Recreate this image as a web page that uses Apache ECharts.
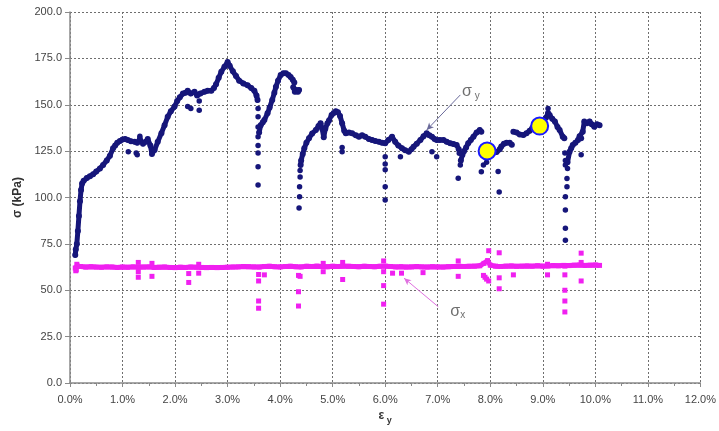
<!DOCTYPE html>
<html>
<head>
<meta charset="utf-8">
<script src="https://cdn.jsdelivr.net/npm/echarts@6/dist/echarts.min.js"></script>
<style>html,body{margin:0;padding:0;background:#fff;}#c{width:719px;height:431px;}</style>
</head>
<body>
<div id="c"></div>
<script>
// ---- axis ticks ----
const xTicks = [0,1,2,3,4,5,6,7,8,9,10,11,12];      // ε y (%)
const yTicks = [0,25,50,75,100,125,150,175,200];     // σ (kPa)

// ---- σy : continuous runs of readings [εy %, kPa] ----
const sigmaYRunA = [[0.10,69],[0.11,72],[0.13,75],[0.15,82],[0.17,90],[0.19,98],[0.21,104],[0.23,107.5],[0.26,109],[0.32,110.5],[0.38,111.5],[0.44,112.5],[0.50,114],[0.57,115.7],[0.63,117.5],[0.70,120],[0.76,122.5],[0.82,126.5],[0.86,128],[0.90,129.5],[0.95,130.5],[1.00,131.2],[1.05,131.5],[1.10,131],[1.16,130.3],[1.23,130],[1.28,129.5],[1.33,131.5],[1.39,129],[1.44,130],[1.48,131.5],[1.53,128],[1.56,123.5],[1.61,125.6],[1.67,130],[1.74,134.7],[1.80,139],[1.86,143.5],[1.92,146.5],[1.99,149],[2.04,152],[2.09,154],[2.15,156],[2.20,156.5],[2.24,157.5],[2.30,156],[2.37,157],[2.42,155],[2.48,156],[2.56,157],[2.62,157.5],[2.69,157.5],[2.74,159],[2.78,161],[2.83,164.5],[2.88,167.8],[2.94,170.5],[3.00,173],[3.04,171],[3.10,168],[3.16,165.5],[3.22,163],[3.30,161.5],[3.38,160.5],[3.45,159],[3.51,157.5],[3.55,155],[3.57,152.5]];
const sigmaYRunB = [[3.60,135],[3.63,139],[3.67,140.5],[3.70,141.8],[3.76,145.4],[3.80,148.5],[3.85,152.6],[3.89,156.5],[3.92,159.7],[3.96,163],[4.01,166],[4.06,167],[4.11,167],[4.16,166],[4.20,165],[4.24,163.5],[4.27,162]];
const sigmaYRunB2 = [[4.25,159.5],[4.28,157],[4.31,158],[4.34,157],[4.36,158]];
const sigmaYRunC = [[4.39,117.5],[4.40,120],[4.43,123.5],[4.46,126.5],[4.50,129.5],[4.55,132],[4.61,134.5],[4.68,136.4],[4.73,138.5],[4.77,140],[4.80,137],[4.83,132.5],[4.86,137],[4.90,140],[4.93,141.5],[4.98,144.5],[5.02,145.5],[5.06,146.5],[5.10,146],[5.14,144],[5.18,140],[5.22,136],[5.25,134.6],[5.31,135],[5.37,134.6],[5.44,133.5],[5.50,132.8],[5.56,133.5],[5.62,132.8],[5.69,131.5],[5.75,131],[5.81,130.5],[5.88,130],[5.94,129.5],[6.00,129.2],[6.06,131],[6.13,132.8],[6.19,130],[6.25,128],[6.32,126.5],[6.38,125.5],[6.45,124.7],[6.50,126],[6.54,127.4],[6.60,129],[6.67,131],[6.73,133],[6.79,134.6],[6.84,133.5],[6.89,132.8],[6.94,131.5],[6.98,131],[7.04,131],[7.11,131],[7.17,130],[7.24,129.2],[7.30,128.8],[7.36,128.3],[7.40,126]];
const sigmaYRunD = [[7.44,120],[7.47,123],[7.50,125],[7.54,127],[7.58,129.2],[7.63,131],[7.68,132.8],[7.74,135],[7.80,136.4],[7.83,135.5]];
const sigmaYRunE = [[8.05,124],[8.12,124.5],[8.18,126],[8.21,127.5],[8.26,129],[8.31,129.5],[8.37,129.5],[8.41,128.5]];
const sigmaYRunF = [[8.44,135.5],[8.50,135],[8.56,134],[8.63,133.7],[8.69,134.6],[8.75,136],[8.80,137.5],[8.86,138],[8.93,139.5],[9.00,141],[9.06,143],[9.10,145.5],[9.13,144.5],[9.18,142.5],[9.23,141],[9.28,138],[9.32,136.4],[9.38,132.8],[9.41,132]];
const sigmaYRunG = [[9.47,119],[9.51,124.7],[9.54,126.5],[9.57,128.3],[9.62,129.5],[9.67,131],[9.70,133],[9.73,132],[9.76,135.5],[9.79,141],[9.84,140],[9.89,141],[9.93,139.5],[9.98,138.2],[10.03,139.5],[10.08,139]];
// ---- σy : isolated readings ----
const sigmaYDots = [[1.11,124.7],[1.26,124],[1.28,123],[1.33,133],[2.24,149],[2.30,148],[2.46,147],[2.46,152],[3.58,148],[3.58,143.5],[3.58,138],[3.58,132.8],[3.58,128],[3.58,124],[3.58,116.6],[3.58,106.7],[4.36,94.3],[4.37,100.4],[4.37,105.8],[4.38,111],[4.38,114.5],[5.18,124.7],[5.18,127],[6.00,122],[6.00,118],[6.00,115],[6.00,105.8],[6.00,98.6],[6.29,122],[6.89,124.7],[6.98,122],[7.41,123.8],[7.43,117.5],[7.39,110.4],[7.83,113.9],[7.87,117.5],[7.93,119],[8.15,114],[8.17,103],[9.10,148],[9.42,124],[9.43,120],[9.43,117.5],[9.47,115.7],[9.46,110.3],[9.46,105.8],[9.43,100.4],[9.43,93.3],[9.43,83.4],[9.43,77],[9.73,123]];

// ---- σx : main run and isolated readings ----
const sigmaXRun = [[0.10,62],[0.12,61],[0.14,63],[0.2,62.8],[0.3,62.5],[0.4,62.7],[0.5,62.5],[0.6,62.4],[0.7,62.6],[0.8,62.5],[0.9,62.3],[1.0,62.5],[1.1,62.4],[1.2,62.6],[1.3,62.4],[1.4,62.5],[1.5,62.6],[1.6,62.3],[1.7,62.4],[1.8,62.5],[1.9,62.3],[2.0,62.2],[2.1,62.4],[2.2,62.3],[2.3,62.5],[2.4,62.4],[2.5,62.3],[2.6,62.2],[2.7,62.3],[2.8,62.2],[2.9,62.3],[3.0,62.4],[3.1,62.5],[3.2,62.6],[3.3,62.8],[3.4,62.7],[3.5,62.6],[3.6,62.5],[3.7,62.8],[3.8,62.9],[3.9,62.7],[4.0,62.6],[4.1,62.8],[4.2,62.9],[4.3,62.7],[4.4,62.6],[4.5,62.9],[4.6,62.8],[4.7,63.0],[4.8,62.8],[4.9,62.7],[5.0,62.9],[5.1,62.8],[5.2,63.0],[5.3,62.9],[5.4,62.8],[5.5,62.7],[5.6,62.9],[5.7,62.8],[5.8,62.7],[5.9,62.9],[6.0,63.0],[6.1,62.8],[6.2,62.6],[6.3,62.7],[6.4,62.5],[6.5,62.6],[6.6,62.8],[6.7,62.6],[6.8,62.5],[6.9,62.7],[7.0,62.6],[7.1,62.5],[7.2,62.7],[7.3,62.8],[7.4,62.9],[7.5,62.8],[7.6,62.9],[7.7,63.0],[7.8,63.2],[7.88,64.5],[7.95,66],[8.0,63.5],[8.1,63.0],[8.2,62.8],[8.3,63.0],[8.4,63.1],[8.5,62.9],[8.6,63.0],[8.7,63.1],[8.8,63.0],[8.9,63.2],[9.0,63.0],[9.1,63.1],[9.2,63.3],[9.3,63.2],[9.4,63.4],[9.5,63.3],[9.6,63.5],[9.7,63.6],[9.8,63.4],[9.9,63.5],[10.0,63.6],[10.08,63.4]];
const sigmaXDots = [[0.11,60.5],[0.13,64],[1.30,65],[1.30,60],[1.30,57],[1.56,57.5],[1.56,64.5],[2.26,54.2],[2.26,59],[2.45,59.2],[2.45,64],[3.59,55],[3.59,58.5],[3.59,44.2],[3.59,40.3],[3.70,58.3],[4.35,49.2],[4.35,41.5],[4.35,58],[4.38,57.5],[4.82,60],[4.82,64.5],[5.19,55.8],[5.19,65],[5.97,65.8],[5.97,52.5],[5.97,42.5],[5.97,60],[6.14,59.2],[6.31,59.2],[6.72,59.5],[7.39,65.8],[7.39,57.5],[7.87,58],[7.90,57],[7.93,56],[7.97,71.3],[7.97,55],[8.17,70.2],[8.17,56.7],[8.17,50.8],[8.44,58.3],[9.09,58.3],[9.09,64],[9.42,63],[9.42,58.3],[9.42,50],[9.42,44.2],[9.42,38.3],[9.73,70],[9.73,65],[9.73,55]];

// ---- highlighted readings (yellow markers) ----
const highlights = [[7.94,125.1],[8.94,138.5]];

// ---- annotations ----
const annoLabels = [[7.63,157,'y'],[7.38,38.5,'x']];
const annoArrows = [[[7.43,155.3],[6.79,136.4]],[[7.01,41.1],[6.36,56.5]]];

const Y_COLOR = '#16167a';
const X_COLOR = '#f020f0';
const FONT = 'Liberation Sans, Arial, sans-serif';

const chart = echarts.init(document.getElementById('c'), null, {renderer:'canvas'});

const ySeries = [sigmaYRunA, sigmaYRunB, sigmaYRunB2, sigmaYRunC, sigmaYRunD, sigmaYRunE, sigmaYRunF, sigmaYRunG].map(run => ({
  type:'line', data: run, symbol:'circle', symbolSize:6, showSymbol:true,
  itemStyle:{color:Y_COLOR, opacity:1}, lineStyle:{color:Y_COLOR, width:5, cap:'round', join:'round'},
  z:3, animation:false, silent:true
}));

const option = {
  animation:false,
  backgroundColor:'#ffffff',
  grid:{left:70, right:16, top:12, bottom:48, containLabel:false},
  xAxis:{
    type:'value', min:xTicks[0], max:xTicks[xTicks.length-1], interval:1,
    name:'{e|ε}{s| y}', nameLocation:'middle', nameGap:27,
    nameTextStyle:{rich:{e:{fontFamily:FONT,fontSize:12,fontWeight:'bold',color:'#333',verticalAlign:'bottom'},s:{fontFamily:FONT,fontSize:9,fontWeight:'bold',color:'#333',verticalAlign:'bottom',padding:[0,0,-3,0]}}},
    axisLine:{show:true, onZero:false, lineStyle:{color:'#8a8a8a', width:1.5}},
    axisTick:{show:true, length:4, lineStyle:{color:'#8a8a8a'}},
    minorTick:{show:true, splitNumber:2, length:3, lineStyle:{color:'#8a8a8a'}},
    axisLabel:{margin:11, fontFamily:FONT, fontSize:11, color:'#444', formatter:v=>v.toFixed(1)+'%'},
    splitLine:{show:true, lineStyle:{color:'#6e6e6e', type:[2,2], width:1}}
  },
  yAxis:{
    type:'value', min:yTicks[0], max:yTicks[yTicks.length-1], interval:25,
    name:'σ (kPa)', nameLocation:'middle', nameGap:46, nameRotate:90,
    nameTextStyle:{fontFamily:FONT, fontSize:12, fontWeight:'bold', color:'#333'},
    axisLine:{show:true, onZero:false, lineStyle:{color:'#8a8a8a', width:1.5}},
    axisTick:{show:true, length:5, lineStyle:{color:'#8a8a8a'}},
    axisLabel:{margin:8, fontFamily:FONT, fontSize:11, color:'#444', formatter:v=>v.toFixed(1)},
    splitLine:{show:true, lineStyle:{color:'#6e6e6e', type:[2,2], width:1}}
  },
  series:[
    {
      type:'line', data:sigmaXRun, symbol:'rect', symbolSize:5, showSymbol:true,
      itemStyle:{color:X_COLOR, opacity:1}, lineStyle:{color:X_COLOR, width:5},
      z:2, silent:true,
      markLine:{
        silent:true, symbol:['none','arrow'], symbolSize:[5,7],
        label:{show:false},
        lineStyle:{color:'#e070e0', width:1, type:'solid', opacity:1},
        data:[[{coord:annoArrows[1][0]},{coord:annoArrows[1][1]}]]
      }
    },
    {type:'scatter', data:sigmaXDots, symbol:'rect', symbolSize:5, itemStyle:{color:X_COLOR, opacity:1}, z:2, silent:true},
    ...ySeries,
    {
      type:'scatter', data:sigmaYDots, symbol:'circle', symbolSize:5.5, itemStyle:{color:Y_COLOR, opacity:1}, z:3, silent:true,
      markLine:{
        silent:true, symbol:['none','arrow'], symbolSize:[5,7],
        label:{show:false},
        lineStyle:{color:'#6a6a9a', width:1, type:'solid', opacity:1},
        data:[[{coord:annoArrows[0][0]},{coord:annoArrows[0][1]}]]
      }
    },
    {type:'scatter', data:highlights, symbol:'circle', symbolSize:17,
     itemStyle:{color:'#ffff00', borderColor:'#1a1aff', borderWidth:2, opacity:1}, z:5, silent:true},
    {type:'scatter', data:annoLabels.map(a=>[a[0],a[1],a[2]]), symbolSize:0, z:6, silent:true,
     label:{show:true, position:'inside', formatter:p=>'{g|σ}{s|'+(p.data[2]==='y'?' y':'x')+'}',
       rich:{g:{fontFamily:FONT,fontSize:16,color:'#4a4a4a',verticalAlign:'bottom'},
             s:{fontFamily:FONT,fontSize:10,color:'#4a4a4a',verticalAlign:'bottom',padding:[0,0,-1,0]}}}}
  ]
};
chart.setOption(option);
</script>
</body>
</html>
